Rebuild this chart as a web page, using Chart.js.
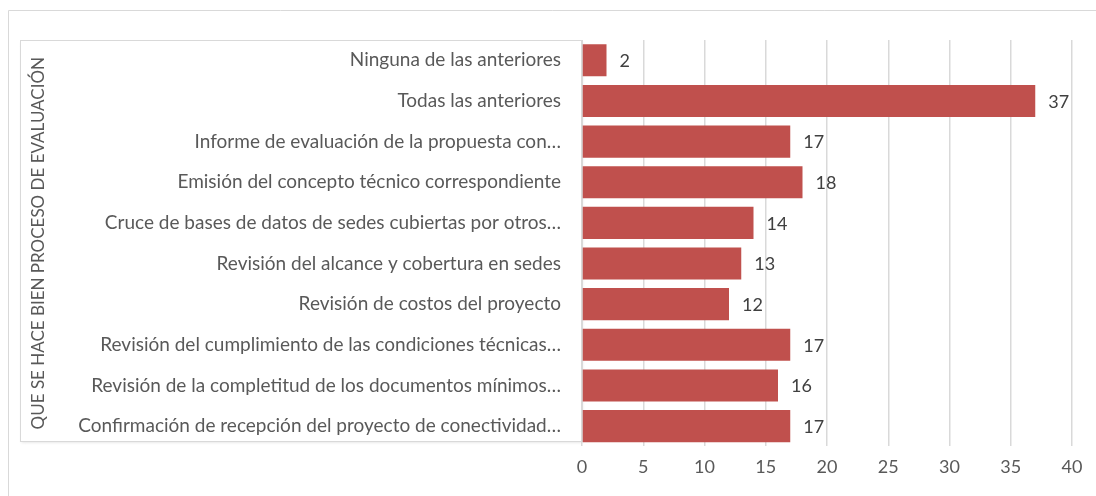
<!DOCTYPE html>
<html>
<head>
<meta charset="utf-8">
<script src="https://cdn.jsdelivr.net/npm/chart.js@4"></script>
<style>
  html, body { margin: 0; padding: 0; background: #fff; }
  #wrap { width: 1096px; height: 496px; position: relative; }
</style>
</head>
<body>
<div id="wrap"><canvas id="barChart" width="1096" height="496"></canvas></div>
<script>
// --- Chart data ---
const categories = [
    'Ninguna de las anteriores',
    'Todas las anteriores',
    'Informe de evaluación de la propuesta con…',
    'Emisión del concepto técnico correspondiente',
    'Cruce de bases de datos de sedes cubiertas por otros…',
    'Revisión del alcance y cobertura en sedes',
    'Revisión de costos del proyecto',
    'Revisión del cumplimiento de las condiciones técnicas…',
    'Revisión de la completitud de los documentos mínimos…',
    'Confirmación de recepción del proyecto de conectividad…'
];
const counts = [2, 37, 17, 18, 14, 13, 12, 17, 16, 17];
const xTicks = [0, 5, 10, 15, 20, 25, 30, 35, 40];
const axisTitle = 'QUE SE HACE BIEN PROCESO DE EVALUACIÓN';

const FONT = 'Lato, "Liberation Sans", sans-serif';
const TEXT_GREY = '#595959';

// --- Frame + label box behind the chart ---
const framePlugin = {
    id: 'framePlugin',
    beforeDraw(chart) {
        const ctx = chart.ctx;
        const area = chart.chartArea;
        ctx.save();
        ctx.strokeStyle = '#d9d9d9';
        ctx.lineWidth = 1;
        // outer chart border (cut off at right/bottom in the reference)
        ctx.beginPath();
        ctx.moveTo(8.5, 496);
        ctx.lineTo(8.5, 10.5);
        ctx.lineTo(1096, 10.5);
        ctx.stroke();
        // box around category labels
        ctx.shadowColor = 'rgba(0,0,0,0.12)';
        ctx.shadowBlur = 3;
        ctx.shadowOffsetY = 1;
        ctx.fillStyle = '#fff';
        ctx.fillRect(20.5, area.top + 0.5, area.left - 20, 401);
        ctx.shadowColor = 'transparent';
        ctx.strokeRect(20.5, area.top + 0.5, area.left - 20, 401);
        ctx.restore();
    }
};

// --- Value labels at bar ends ---
const valueLabels = {
    id: 'valueLabels',
    afterDatasetsDraw(chart) {
        const ctx = chart.ctx;
        const meta = chart.getDatasetMeta(0);
        ctx.save();
        ctx.font = '18px ' + FONT;
        ctx.fillStyle = '#404040';
        ctx.textAlign = 'left';
        ctx.textBaseline = 'middle';
        meta.data.forEach((bar, i) => {
            ctx.fillText(String(counts[i]), bar.x + 13, bar.y + 1);
        });
        ctx.restore();
    }
};

new Chart(document.getElementById('barChart'), {
    type: 'bar',
    data: {
        labels: categories,
        datasets: [{
            data: counts,
            backgroundColor: '#c0504d',
            borderWidth: 0,
            categoryPercentage: 1,
            barPercentage: 0.79
        }]
    },
    options: {
        indexAxis: 'y',
        responsive: false,
        animation: false,
        devicePixelRatio: 1,
        layout: { padding: { left: 28, right: 24, top: 40, bottom: 8 } },
        plugins: { legend: { display: false }, tooltip: { enabled: false } },
        scales: {
            x: {
                min: 0,
                max: 40,
                afterBuildTicks: s => { s.ticks = xTicks.map(v => ({ value: v })); },
                grid: { color: '#d9d9d9', lineWidth: 1.5, drawTicks: false },
                border: { display: false },
                ticks: { color: TEXT_GREY, font: { family: FONT, size: 18 }, padding: 10 }
            },
            y: {
                afterFit: s => { s.width = 554; },
                grid: { display: false, drawTicks: false },
                border: { display: false },
                ticks: { color: TEXT_GREY, font: { family: FONT, size: 19 }, padding: 21, autoSkip: false },
                title: {
                    display: true,
                    text: axisTitle,
                    color: TEXT_GREY,
                    font: { family: FONT, size: 17 },
                    padding: { top: 0, bottom: 0 }
                }
            }
        }
    },
    plugins: [framePlugin, valueLabels]
});
</script>
</body>
</html>
